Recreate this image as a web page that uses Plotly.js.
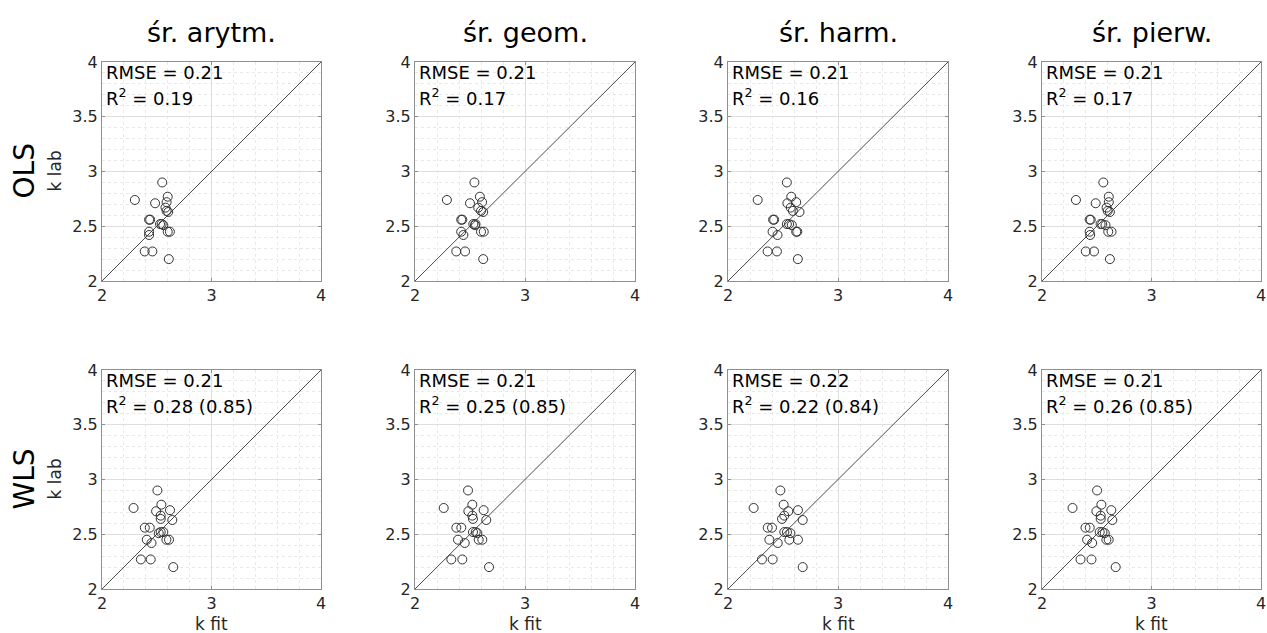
<!DOCTYPE html>
<html>
<head>
<meta charset="utf-8">
<script src="https://cdn.plot.ly/plotly-3.0.1.min.js"></script>
<style>html,body{margin:0;padding:0;background:#fff;}#chart{width:1267px;height:633px;}</style>
</head>
<body>
<div id="chart"></div>
<script>
// ---- data ----
const columnTitles = ['śr. arytm.', 'śr. geom.', 'śr. harm.', 'śr. pierw.'];
const rowLabels = ['OLS', 'WLS'];
const xLabel = 'k fit';
const yLabel = 'k lab';
const axisRange = [2, 4];

// laboratory values (shared by all panels)
const kLab = [2.90, 2.77, 2.74, 2.72, 2.71, 2.67, 2.64, 2.63, 2.56, 2.56, 2.52, 2.52, 2.51, 2.45, 2.45, 2.45, 2.42, 2.27, 2.27, 2.20];

// fitted values, OLS row
const olsArytm = [2.55, 2.60, 2.30, 2.59, 2.485, 2.58, 2.59, 2.605, 2.43, 2.44, 2.53, 2.545, 2.56, 2.43, 2.60, 2.62, 2.43, 2.39, 2.46, 2.61];
const olsGeom  = [2.54, 2.59, 2.29, 2.61, 2.50, 2.575, 2.60, 2.62, 2.42, 2.43, 2.53, 2.55, 2.545, 2.42, 2.60, 2.625, 2.44, 2.375, 2.455, 2.62];
const olsHarm  = [2.535, 2.575, 2.27, 2.62, 2.54, 2.57, 2.59, 2.65, 2.41, 2.42, 2.535, 2.555, 2.58, 2.405, 2.62, 2.63, 2.45, 2.36, 2.445, 2.635];
const olsPierw = [2.56, 2.61, 2.31, 2.61, 2.49, 2.59, 2.60, 2.62, 2.435, 2.445, 2.535, 2.55, 2.58, 2.435, 2.605, 2.635, 2.44, 2.40, 2.475, 2.62];

// fitted values, WLS row
const wlsArytm = [2.506, 2.542, 2.288, 2.621, 2.494, 2.536, 2.536, 2.642, 2.391, 2.436, 2.536, 2.56, 2.518, 2.409, 2.588, 2.612, 2.452, 2.355, 2.445, 2.651];
const wlsGeom  = [2.482, 2.521, 2.261, 2.624, 2.485, 2.521, 2.527, 2.648, 2.376, 2.421, 2.527, 2.552, 2.567, 2.391, 2.579, 2.612, 2.452, 2.33, 2.43, 2.673];
const wlsHarm  = [2.476, 2.506, 2.233, 2.636, 2.548, 2.512, 2.491, 2.679, 2.361, 2.40, 2.512, 2.536, 2.567, 2.376, 2.558, 2.636, 2.452, 2.309, 2.406, 2.679];
const wlsPierw = [2.503, 2.542, 2.279, 2.633, 2.497, 2.536, 2.536, 2.642, 2.397, 2.436, 2.527, 2.552, 2.573, 2.412, 2.588, 2.609, 2.458, 2.352, 2.452, 2.673];

const rmseOLS = ['0.21', '0.21', '0.21', '0.21'];
const r2OLS   = ['0.19', '0.17', '0.16', '0.17'];
const rmseWLS = ['0.21', '0.21', '0.22', '0.21'];
const r2WLS   = ['0.28 (0.85)', '0.25 (0.85)', '0.22 (0.84)', '0.26 (0.85)'];

const fitted = [[olsArytm, olsGeom, olsHarm, olsPierw], [wlsArytm, wlsGeom, wlsHarm, wlsPierw]];
const rmse = [rmseOLS, rmseWLS];
const r2 = [r2OLS, r2WLS];

// ---- layout geometry (pixels) ----
const W = 1267, H = 633;
const colL = [102, 415, 728, 1042], colR = [321, 635, 948, 1261];
const rowT = [62, 370], rowB = [281, 589];
const px = p => p / W;
const py = p => 1 - p / H;

const FONT = 'DejaVu Sans, Liberation Sans, sans-serif';
const TXT = '#262626';
const traces = [];
const layout = {
  width: W, height: H,
  margin: {l: 0, r: 0, t: 0, b: 0},
  paper_bgcolor: '#fff', plot_bgcolor: '#fff',
  showlegend: false,
  font: {family: FONT, color: TXT, size: 16},
  annotations: []
};

for (let r = 0; r < 2; r++) {
  for (let c = 0; c < 4; c++) {
    const n = r * 4 + c + 1;
    const xa = 'x' + (n === 1 ? '' : n), ya = 'y' + (n === 1 ? '' : n);
    const xk = 'xaxis' + (n === 1 ? '' : n), yk = 'yaxis' + (n === 1 ? '' : n);
    traces.push({
      x: axisRange, y: axisRange, xaxis: xa, yaxis: ya, type: 'scatter', mode: 'lines',
      line: {color: '#4a4a4a', width: 1}, hoverinfo: 'skip'
    });
    traces.push({
      x: fitted[r][c], y: kLab, xaxis: xa, yaxis: ya, type: 'scatter', mode: 'markers',
      marker: {symbol: 'circle-open', size: 9, color: '#333', line: {width: 1, color: '#333'}}
    });
    const common = {
      range: axisRange, showline: true, linecolor: '#8f8f8f', linewidth: 1, mirror: 'ticks',
      ticks: 'inside', ticklen: 3, tickcolor: '#8f8f8f', zeroline: false,
      showgrid: true, gridcolor: '#dedede', gridwidth: 1,
      tickfont: {family: FONT, size: 16, color: TXT}, fixedrange: true, tick0: 2
    };
    layout[xk] = Object.assign({}, common, {
      domain: [px(colL[c]), px(colR[c])], anchor: ya, dtick: 1,
      minor: {dtick: 0.2, tick0: 2, showgrid: true, gridcolor: '#e9e9e9', griddash: 'dot', ticks: ''}
    });
    layout[yk] = Object.assign({}, common, {
      domain: [py(rowB[r]), py(rowT[r])], anchor: xa, dtick: 0.5,
      minor: {dtick: 0.1, tick0: 2, showgrid: true, gridcolor: '#e9e9e9', griddash: 'dot', ticks: ''}
    });
    layout.annotations.push({
      xref: xa, yref: ya, x: 2.02, y: 3.9, xanchor: 'left', yanchor: 'middle', showarrow: false,
      text: 'RMSE = ' + rmse[r][c], font: {family: FONT, size: 18, color: '#000'}
    });
    layout.annotations.push({
      xref: xa, yref: ya, x: 2.02, y: 3.68, xanchor: 'left', yanchor: 'middle', showarrow: false,
      text: 'R<sup>2</sup> = ' + r2[r][c], font: {family: FONT, size: 18, color: '#000'}
    });
  }
}

// column titles and x labels
for (let c = 0; c < 4; c++) {
  layout.annotations.push({
    xref: 'paper', yref: 'paper', x: px((colL[c] + colR[c]) / 2), y: py(32),
    xanchor: 'center', yanchor: 'middle', showarrow: false,
    text: columnTitles[c], font: {family: FONT, size: 27, color: '#000'}
  });
  layout.annotations.push({
    xref: 'paper', yref: 'paper', x: px((colL[c] + colR[c]) / 2), y: py(624),
    xanchor: 'center', yanchor: 'middle', showarrow: false,
    text: xLabel, font: {family: FONT, size: 17, color: TXT}
  });
}
// row labels
for (let r = 0; r < 2; r++) {
  const yc = py((rowT[r] + rowB[r]) / 2);
  layout.annotations.push({
    xref: 'paper', yref: 'paper', x: px(24), y: yc, xanchor: 'center', yanchor: 'middle',
    showarrow: false, textangle: -90, text: rowLabels[r], font: {family: FONT, size: 28, color: '#000'}
  });
  layout.annotations.push({
    xref: 'paper', yref: 'paper', x: px(54), y: yc, xanchor: 'center', yanchor: 'middle',
    showarrow: false, textangle: -90, text: yLabel, font: {family: FONT, size: 17, color: TXT}
  });
}

Plotly.newPlot('chart', traces, layout, {displayModeBar: false, staticPlot: true});
</script>
</body>
</html>
